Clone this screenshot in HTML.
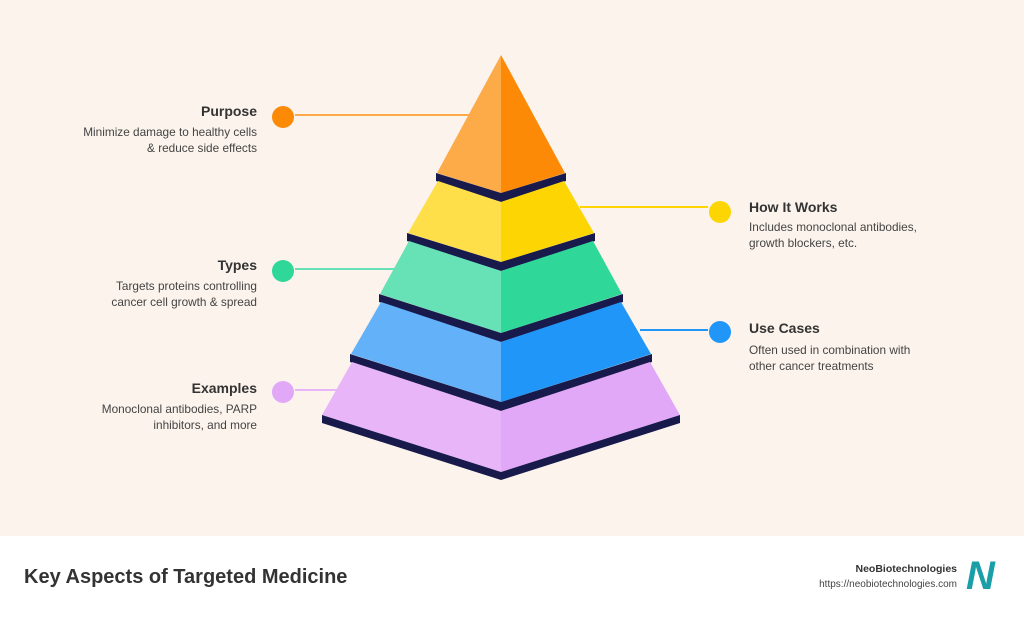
<!DOCTYPE html>
<html><head><style>
body{margin:0;width:1024px;height:622px;overflow:hidden;background:#fbf3ec;font-family:"Liberation Sans",sans-serif;position:relative}
.t{position:absolute;font-weight:bold;font-size:14px;color:#333}
.d{position:absolute;font-size:11.8px;color:#444;line-height:16px}
.r{text-align:right}
#foot{position:absolute;left:0;top:536px;width:1024px;height:86px;background:#fff}
</style></head><body>
<svg width="1024" height="536" style="position:absolute;left:0;top:0">
<g stroke-width="2">
<line x1="295" y1="115" x2="470" y2="115" stroke="#fdaa48"/>
<line x1="580" y1="207" x2="708" y2="207" stroke="#fdd503"/>
<line x1="295" y1="269" x2="395" y2="269" stroke="#67e2b6"/>
<line x1="640" y1="330" x2="708" y2="330" stroke="#2196f9"/>
<line x1="295" y1="390" x2="337" y2="390" stroke="#e9b5f9"/>
</g>
<circle cx="283" cy="117" r="11" fill="#fd8a06"/>
<circle cx="720" cy="212" r="11" fill="#fdd503"/>
<circle cx="283" cy="271" r="11" fill="#2fd899"/>
<circle cx="720" cy="332" r="11" fill="#2196f9"/>
<circle cx="283" cy="392" r="11" fill="#e2a8f8"/>
<polygon points="501,55 437,173 501,193" fill="#fdaa48"/>
<polygon points="501,55 565,173 501,193" fill="#fd8a06"/>
<polygon points="436,173 501,193 566,173 566,181 501,202 436,181" fill="#171a4a"/>
<polygon points="438,181 501,202 501,262 408,233" fill="#fedf4a"/>
<polygon points="564,181 501,202 501,262 594,233" fill="#fdd503"/>
<polygon points="407,233 501,262 595,233 595,241 501,271 407,241" fill="#171a4a"/>
<polygon points="409,241 501,271 501,333 380,294" fill="#67e2b6"/>
<polygon points="593,241 501,271 501,333 622,294" fill="#2fd899"/>
<polygon points="379,294 501,333 623,294 623,302 501,342 379,302" fill="#171a4a"/>
<polygon points="381,302 501,342 501,402 351,354" fill="#62b1f9"/>
<polygon points="621,302 501,342 501,402 651,354" fill="#2196f9"/>
<polygon points="350,354 501,402 652,354 652,362 501,411 350,362" fill="#171a4a"/>
<polygon points="352,362 501,411 501,472 322,415" fill="#e9b5f9"/>
<polygon points="650,362 501,411 501,472 680,415" fill="#e2a8f8"/>
<polygon points="322,415 501,472 680,415 680,423 501,480 322,423" fill="#171a4a"/>
</svg>
<div class="t r" style="right:767px;top:103px">Purpose</div>
<div class="d r" style="right:767px;top:124px">Minimize damage to healthy cells<br>&amp; reduce side effects</div>
<div class="t r" style="right:767px;top:257px">Types</div>
<div class="d r" style="right:767px;top:278px">Targets proteins controlling<br>cancer cell growth &amp; spread</div>
<div class="t r" style="right:767px;top:380px">Examples</div>
<div class="d r" style="right:767px;top:401px">Monoclonal antibodies, PARP<br>inhibitors, and more</div>
<div class="t" style="left:749px;top:199px">How It Works</div>
<div class="d" style="left:749px;top:219px">Includes monoclonal antibodies,<br>growth blockers, etc.</div>
<div class="t" style="left:749px;top:320px">Use Cases</div>
<div class="d" style="left:749px;top:342px">Often used in combination with<br>other cancer treatments</div>
<div id="foot">
<div style="position:absolute;left:24px;top:30px;font-size:20px;font-weight:bold;color:#333">Key Aspects of Targeted Medicine</div>
<div style="position:absolute;right:67px;top:27px;font-size:10.5px;font-weight:bold;color:#333;text-align:right">NeoBiotechnologies</div>
<div style="position:absolute;right:67px;top:43px;font-size:10px;color:#444;text-align:right">https://neobiotechnologies.com</div>
<div style="position:absolute;left:966px;top:18px;font-size:40px;font-weight:bold;font-style:italic;color:#1a9fa8;line-height:44px">N</div>
</div>
</body></html>
